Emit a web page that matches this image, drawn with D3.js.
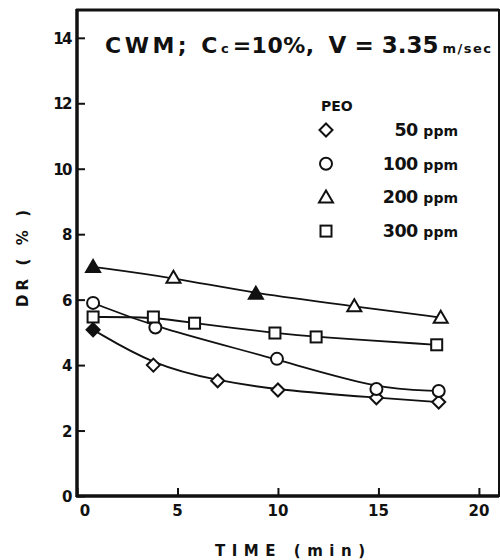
<!DOCTYPE html>
<html>
<head>
<meta charset="utf-8">
<script src="https://cdn.jsdelivr.net/npm/d3@7"></script>
<style>
  body { margin: 0; background: #fff; }
  svg text { font-family: 'DejaVu Sans', sans-serif; font-weight: bold; fill: #111; }
</style>
</head>
<body>
<svg id="chart" width="500" height="560"></svg>
<script>
// tick labels
const xTicks = [0, 5, 10, 15, 20];
const yTicks = [0, 2, 4, 6, 8, 10, 12, 14];

// PEO concentrations (legend order)
const seriesNames = ['50 ppm', '100 ppm', '200 ppm', '300 ppm'];
const seriesShapes = ['diamond', 'circle', 'triangle', 'square'];

// DR (%) vs time (min)
const ppm50 = [[0.8, 5.08], [3.8, 4.0], [7.0, 3.52], [10.0, 3.24], [14.9, 3.0], [18.0, 2.87]];
const ppm100 = [[0.8, 5.9], [3.9, 5.15], [9.95, 4.19], [14.9, 3.27], [18.0, 3.21]];
const ppm200 = [[0.8, 7.0], [4.8, 6.67], [8.9, 6.18], [13.8, 5.8], [18.1, 5.45]];
const ppm300 = [[0.8, 5.47], [3.8, 5.47], [5.85, 5.28], [9.85, 4.98], [11.9, 4.86], [17.9, 4.62]];
const seriesData = [ppm50, ppm100, ppm200, ppm300];

// points that print solid in the original
const solidPts = { '0-0': true, '2-0': true, '2-2': true };

const svg = d3.select('#chart');
const x = d3.scaleLinear().domain([0, 21]).range([77, 499]);
const y = d3.scaleLinear().domain([0, 14.85]).range([496, 10]);

// frame
svg.append('rect')
  .attr('x', x(0)).attr('y', y(14.85))
  .attr('width', x(21) - x(0)).attr('height', y(0) - y(14.85))
  .attr('fill', 'none').attr('stroke', '#111').attr('stroke-width', 2);
svg.append('line').attr('x1', x(0)).attr('x2', x(0)).attr('y1', y(14.85) - 1).attr('y2', y(0) + 1)
  .attr('stroke', '#111').attr('stroke-width', 3.5);
svg.append('line').attr('x1', x(0) - 1).attr('x2', x(21)).attr('y1', y(0)).attr('y2', y(0))
  .attr('stroke', '#111').attr('stroke-width', 3.5);
svg.append('line').attr('x1', x(0) - 1).attr('x2', x(21)).attr('y1', y(14.85)).attr('y2', y(14.85))
  .attr('stroke', '#111').attr('stroke-width', 3);

// axes with inward ticks
const xAxis = d3.axisTop(x).tickValues(xTicks).tickSize(8).tickFormat('');
svg.append('g').attr('transform', `translate(0,${y(0)})`).call(xAxis)
  .call(g => g.select('.domain').remove())
  .call(g => g.selectAll('line').attr('stroke', '#111').attr('stroke-width', 2));
const yAxis = d3.axisRight(y).tickValues(yTicks).tickSize(8).tickFormat('');
svg.append('g').attr('transform', `translate(${x(0)},0)`).call(yAxis)
  .call(g => g.select('.domain').remove())
  .call(g => g.selectAll('line').attr('stroke', '#111').attr('stroke-width', 2));

svg.selectAll('.xl').data(xTicks).enter().append('text')
  .attr('x', d => d === 0 ? x(d) + 8 : x(d)).attr('y', 516)
  .attr('text-anchor', 'middle').attr('font-size', 15).text(d => d);
svg.selectAll('.yl').data(yTicks).enter().append('text')
  .attr('x', 71).attr('y', d => y(d) + 6)
  .attr('text-anchor', 'end').attr('font-size', 15).attr('letter-spacing', -1.5).text(d => d);

// axis titles
svg.append('text').attr('x', 215).attr('y', 556).attr('font-size', 15)
  .attr('textLength', 150).attr('lengthAdjust', 'spacing').text('TIME (min)');
svg.append('text').attr('transform', 'translate(28,307) rotate(-90)').attr('font-size', 15)
  .attr('textLength', 97).attr('lengthAdjust', 'spacing').text('DR ( % )');

// title
const title = svg.append('text').attr('x', 105).attr('y', 53).attr('font-size', 22);
title.append('tspan').attr('letter-spacing', 3.5).text('CWM; C');
title.append('tspan').attr('font-size', 13).text('c');
title.append('tspan').attr('dx', 4).attr('letter-spacing', 0.5).text('=10%,');
title.append('tspan').attr('dx', 14).attr('font-size', 23).text('V = 3.35');
title.append('tspan').attr('dx', 4).attr('font-size', 13).attr('letter-spacing', 1.5).text('m/sec');

// marker drawing
function marker(g, shape, cx, cy, solid) {
  const fill = solid ? '#111' : '#fff';
  const s = { stroke: '#111', 'stroke-width': 2, fill };
  let el;
  if (shape === 'circle') {
    el = g.append('circle').attr('cx', cx).attr('cy', cy).attr('r', 6);
  } else if (shape === 'square') {
    el = g.append('rect').attr('x', cx - 5.5).attr('y', cy - 5.5).attr('width', 11).attr('height', 11);
  } else if (shape === 'triangle') {
    el = g.append('path').attr('d', `M${cx},${cy - 7}L${cx + 7},${cy + 5}L${cx - 7},${cy + 5}Z`);
  } else {
    el = g.append('path').attr('d', `M${cx},${cy - 6.5}L${cx + 6.5},${cy}L${cx},${cy + 6.5}L${cx - 6.5},${cy}Z`);
  }
  Object.entries(s).forEach(([k, v]) => el.attr(k, v));
}

const line = d3.line().x(d => x(d[0])).y(d => y(d[1])).curve(d3.curveBasis);
seriesData.forEach((data, i) => {
  svg.append('path').datum(data).attr('d', line)
    .attr('fill', 'none').attr('stroke', '#111').attr('stroke-width', 1.8);
});
seriesData.forEach((data, i) => {
  const g = svg.append('g');
  data.forEach((d, j) => marker(g, seriesShapes[i], x(d[0]), y(d[1]), solidPts[i + '-' + j]));
});

// legend
svg.append('text').attr('x', 321).attr('y', 111).attr('font-size', 14).text('PEO');
seriesNames.forEach((name, i) => {
  const ly = 130 + i * 33.7;
  marker(svg, seriesShapes[i], 326, ly, false);
  const t = svg.append('text').attr('x', 458).attr('y', ly + 6).attr('text-anchor', 'end').attr('font-size', 17.5);
  const parts = name.split(' ');
  t.append('tspan').attr('letter-spacing', -0.5).text(parts[0] + ' ');
  t.append('tspan').attr('font-size', 14).text(parts[1]);
});
</script>
</body>
</html>
